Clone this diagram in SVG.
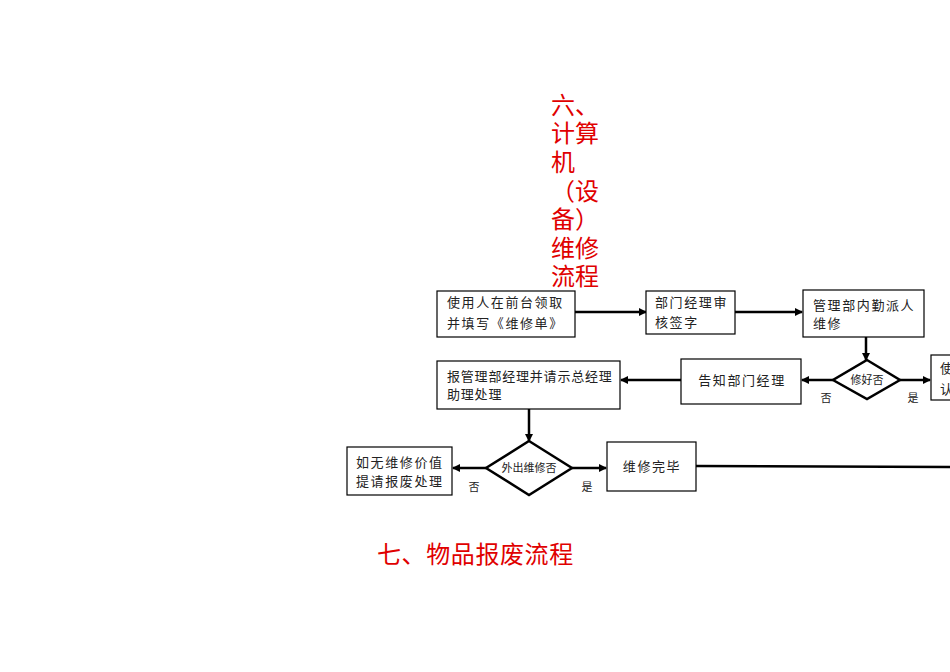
<svg xmlns="http://www.w3.org/2000/svg" width="950" height="672" viewBox="0 0 950 672">
<defs>
<marker id="ah" markerWidth="8" markerHeight="8" refX="7" refY="4" orient="auto" markerUnits="userSpaceOnUse">
<path d="M0,0 L8,4 L0,8 Z" fill="#000"/>
</marker>
<style>
.box{fill:#fff;stroke:#000;stroke-width:1.2}
.dia{fill:#fff;stroke:#000;stroke-width:2.5}
.t{font-family:"Liberation Serif","Noto Sans CJK SC",serif;font-size:13px;fill:#222;letter-spacing:1.6px}
.s{font-family:"Liberation Serif","Noto Sans CJK SC",serif;font-size:11px;fill:#222}
.red{font-family:"Liberation Serif","Noto Sans CJK SC",serif;font-size:24px;fill:#e00000}
.c{stroke:#000;stroke-width:2.5;fill:none}
</style>
</defs>
<rect width="950" height="672" fill="#fff"/>
<g id="title6" class="red">
<text x="551" y="114">六、</text>
<text x="551" y="142">计算</text>
<text x="551" y="171">机</text>
<text x="551" y="200">（设</text>
<text x="551" y="228">备）</text>
<text x="551" y="257">维修</text>
<text x="551" y="285">流程</text>
</g>
<g id="connectors">
<line class="c" x1="575" y1="312" x2="646" y2="312" marker-end="url(#ah)"/>
<line class="c" x1="735" y1="312" x2="802" y2="312" marker-end="url(#ah)"/>
<line class="c" x1="866" y1="337" x2="866" y2="360" marker-end="url(#ah)"/>
<line class="c" x1="833" y1="380" x2="802" y2="380" marker-end="url(#ah)"/>
<line class="c" x1="681" y1="380" x2="621" y2="380" marker-end="url(#ah)"/>
<line class="c" x1="900" y1="380" x2="930" y2="380" marker-end="url(#ah)"/>
<line class="c" x1="529" y1="409" x2="529" y2="441" marker-end="url(#ah)"/>
<line class="c" x1="486" y1="468" x2="453" y2="468" marker-end="url(#ah)"/>
<line class="c" x1="572" y1="468" x2="606" y2="468" marker-end="url(#ah)"/>
<line class="c" x1="696" y1="466" x2="950" y2="467"/>
</g>
<g id="n1"><rect class="box" x="437" y="291" width="138" height="46"/><text class="t" x="447" y="307">使用人在前台领取</text><text class="t" x="447" y="328">并填写《维修单》</text></g>
<g id="n2"><rect class="box" x="646" y="291" width="89" height="43"/><text class="t" x="655" y="307">部门经理审</text><text class="t" x="655" y="327">核签字</text></g>
<g id="n3"><rect class="box" x="803" y="290" width="121" height="47"/><text class="t" x="813" y="310">管理部内勤派人</text><text class="t" x="813" y="328">维修</text></g>
<g id="d1"><polygon class="dia" points="867,360 900,380 867,399 833,380"/><text class="s" x="867" y="384" text-anchor="middle">修好否</text><text class="s" x="826" y="402" text-anchor="middle">否</text><text class="s" x="913" y="402" text-anchor="middle">是</text></g>
<g id="n4"><rect class="box" x="931" y="355" width="30" height="45"/><text class="t" x="940" y="373">使</text><text class="t" x="940" y="394">认</text></g>
<g id="n5"><rect class="box" x="681" y="359" width="120" height="45"/><text class="t" x="742" y="385" text-anchor="middle">告知部门经理</text></g>
<g id="n6"><rect class="box" x="437" y="361" width="183" height="48"/><text class="t" x="447" y="381" style="letter-spacing:0.8px">报管理部经理并请示总经理</text><text class="t" x="447" y="399" style="letter-spacing:0.8px">助理处理</text></g>
<g id="d2"><polygon class="dia" points="529,441 572,468 529,495 486,468"/><text class="s" x="529" y="472" text-anchor="middle">外出维修否</text><text class="s" x="474" y="491" text-anchor="middle">否</text><text class="s" x="587" y="491" text-anchor="middle">是</text></g>
<g id="n7"><rect class="box" x="347" y="447" width="105" height="48"/><text class="t" x="356" y="467">如无维修价值</text><text class="t" x="356" y="486">提请报废处理</text></g>
<g id="n8"><rect class="box" x="607" y="442" width="89" height="49"/><text class="t" x="652" y="471" text-anchor="middle">维修完毕</text></g>
<g id="title7"><text class="red" x="377" y="563" style="letter-spacing:0.6px">七、物品报废流程</text></g>
</svg>
